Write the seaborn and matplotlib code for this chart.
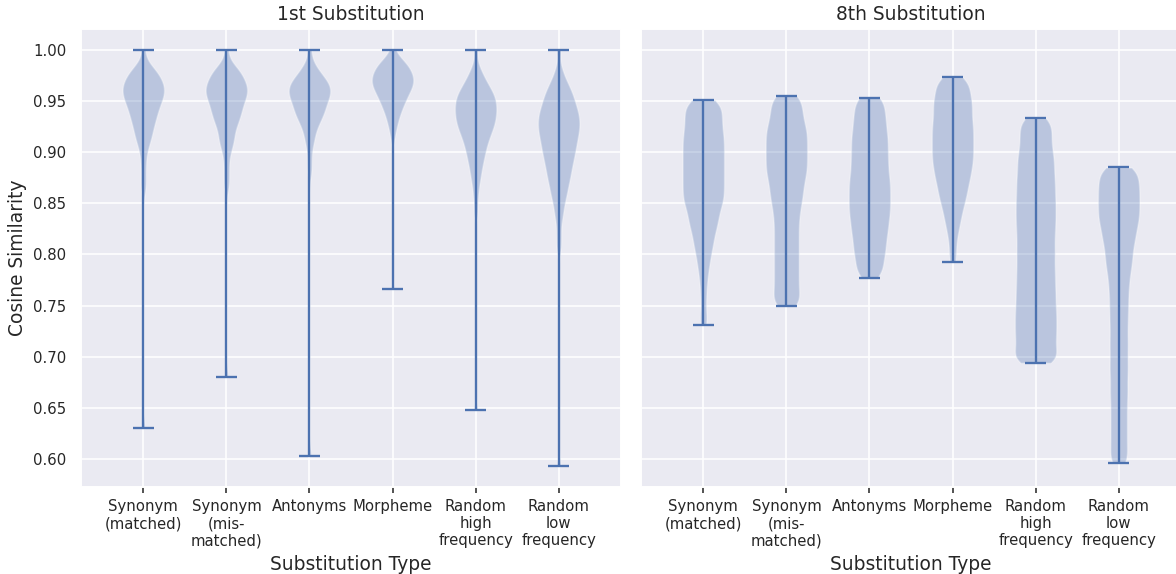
import numpy as np
import matplotlib
matplotlib.use("Agg")
import matplotlib.pyplot as plt
import seaborn as sns

# ---------------- data ----------------
categories = ["Synonym\n(matched)", "Synonym\n(mis-\nmatched)", "Antonyms",
              "Morpheme", "Random\nhigh\nfrequency", "Random\nlow\nfrequency"]
panel_titles = ["1st Substitution", "8th Substitution"]
x_label = "Substitution Type"
y_label = "Cosine Similarity"

# 1st substitution: cosine similarity samples
first_synonym_matched = [
    1.000,
    0.981, 0.984, 0.987,
    0.971, 0.973, 0.974, 0.976, 0.977, 0.979,
    0.961, 0.962, 0.963, 0.965, 0.966, 0.967, 0.968, 0.969,
    0.951, 0.952, 0.953, 0.955, 0.956, 0.957, 0.958, 0.959,
    0.941, 0.943, 0.944, 0.946, 0.947, 0.949,
    0.931, 0.933, 0.935, 0.937, 0.939,
    0.921, 0.924, 0.926, 0.929,
    0.912, 0.915, 0.918,
    0.903, 0.908,
    0.895, 0.885, 0.874, 0.864,
    0.630]
first_synonym_mismatched = [
    1.000,
    0.981, 0.984, 0.987,
    0.971, 0.973, 0.975, 0.976, 0.978, 0.979,
    0.961, 0.962, 0.963, 0.965, 0.966, 0.967, 0.968, 0.969,
    0.951, 0.952, 0.953, 0.955, 0.956, 0.957, 0.958, 0.959,
    0.941, 0.942, 0.944, 0.945, 0.947, 0.949,
    0.931, 0.933, 0.935, 0.937, 0.939,
    0.921, 0.924, 0.927, 0.929,
    0.911, 0.914, 0.917,
    0.903, 0.907,
    0.896, 0.886, 0.876, 0.866,
    0.680]
first_antonyms = [
    1.000,
    0.983, 0.987,
    0.971, 0.973, 0.975, 0.977, 0.979,
    0.961, 0.962, 0.963, 0.965, 0.966, 0.967, 0.968, 0.969,
    0.951, 0.952, 0.953, 0.955, 0.956, 0.957, 0.958, 0.959,
    0.941, 0.942, 0.944, 0.945, 0.947, 0.949,
    0.931, 0.933, 0.935, 0.937, 0.939,
    0.922, 0.925, 0.928,
    0.912, 0.916,
    0.905,
    0.893, 0.881,
    0.603]
first_morpheme = [
    1.000, 0.993,
    0.981, 0.982, 0.983, 0.985, 0.986, 0.987, 0.988, 0.989,
    0.970, 0.971, 0.972, 0.973, 0.974, 0.975, 0.976, 0.977, 0.978, 0.979,
    0.961, 0.962, 0.963, 0.964, 0.965, 0.966, 0.967, 0.968, 0.969,
    0.951, 0.952, 0.954, 0.955, 0.957, 0.958, 0.959,
    0.941, 0.943, 0.945, 0.947, 0.949,
    0.932, 0.935, 0.938,
    0.923, 0.927,
    0.914,
    0.766]
first_random_high = [
    1.000, 0.984, 0.979, 0.974, 0.972, 0.969, 0.967, 0.964, 0.963, 0.961,
    0.959, 0.958, 0.956, 0.955, 0.954, 0.952, 0.951, 0.950, 0.948, 0.947,
    0.946, 0.944, 0.943, 0.942, 0.941, 0.939, 0.938, 0.937, 0.935, 0.934,
    0.933, 0.931, 0.930, 0.929, 0.927, 0.926, 0.924, 0.923, 0.921, 0.920,
    0.918, 0.916, 0.914, 0.912, 0.910, 0.908, 0.905, 0.903, 0.900, 0.897,
    0.894, 0.891, 0.887, 0.883, 0.878, 0.873, 0.866, 0.856, 0.842,
    0.648]
first_random_low = [
    1.000, 0.982, 0.974, 0.970, 0.966, 0.963, 0.961, 0.958, 0.956, 0.954,
    0.952, 0.950, 0.948, 0.946, 0.944, 0.943, 0.941, 0.939, 0.938, 0.936,
    0.935, 0.933, 0.932, 0.930, 0.929, 0.927, 0.926, 0.924, 0.923, 0.921,
    0.920, 0.918, 0.917, 0.915, 0.913, 0.912, 0.910, 0.908, 0.906, 0.905,
    0.903, 0.901, 0.899, 0.897, 0.895, 0.893, 0.891, 0.889, 0.886, 0.884,
    0.882, 0.879, 0.876, 0.874, 0.871, 0.868, 0.864, 0.861, 0.857, 0.853,
    0.847, 0.841, 0.833, 0.820, 0.807,
    0.593]

# 8th substitution: cosine similarity samples
eighth_synonym_matched = [
    0.951, 0.949, 0.948, 0.946, 0.943, 0.941, 0.939, 0.937, 0.934,
    0.932, 0.930, 0.928, 0.926, 0.923, 0.921, 0.919, 0.917, 0.915, 0.913,
    0.911, 0.909, 0.907, 0.905, 0.903, 0.901, 0.899, 0.897, 0.895, 0.893,
    0.891, 0.889, 0.887, 0.885, 0.883, 0.881, 0.879, 0.877, 0.875, 0.873,
    0.871, 0.869, 0.867, 0.865, 0.863, 0.861, 0.859, 0.857, 0.855, 0.853,
    0.851, 0.849, 0.847, 0.844, 0.842, 0.839, 0.836, 0.834, 0.831, 0.828,
    0.825, 0.822, 0.818, 0.814, 0.810, 0.806, 0.801, 0.795, 0.789, 0.781,
    0.771, 0.758, 0.743, 0.731]
eighth_synonym_mismatched = [
    0.955, 0.954, 0.952, 0.949, 0.946, 0.943, 0.941, 0.938, 0.936,
    0.933, 0.931, 0.928, 0.926, 0.924, 0.922, 0.920, 0.918, 0.916, 0.914,
    0.912, 0.910, 0.908, 0.906, 0.904, 0.902, 0.900, 0.898, 0.896, 0.894,
    0.892, 0.890, 0.888, 0.886, 0.884, 0.882, 0.880, 0.878, 0.876, 0.874,
    0.871, 0.869, 0.867, 0.864, 0.862, 0.859, 0.857, 0.854, 0.852, 0.849,
    0.846, 0.843, 0.840, 0.837, 0.834, 0.830, 0.827, 0.824, 0.820, 0.817,
    0.814, 0.810, 0.807, 0.804, 0.800, 0.797, 0.794, 0.790, 0.787, 0.784,
    0.780, 0.777, 0.774, 0.770, 0.767, 0.764, 0.760, 0.757, 0.754, 0.752,
    0.750]
eighth_antonyms = [
    0.953, 0.952, 0.950, 0.947, 0.944, 0.941, 0.938, 0.936, 0.933,
    0.931, 0.928, 0.926, 0.923, 0.921, 0.918, 0.916, 0.914, 0.912, 0.909,
    0.907, 0.905, 0.903, 0.900, 0.898, 0.896, 0.894, 0.891, 0.889, 0.887,
    0.885, 0.883, 0.880, 0.878, 0.876, 0.874, 0.872, 0.870, 0.868, 0.866,
    0.864, 0.862, 0.860, 0.858, 0.856, 0.854, 0.852, 0.850, 0.848, 0.846,
    0.844, 0.842, 0.840, 0.838, 0.836, 0.834, 0.832, 0.829, 0.827, 0.825,
    0.823, 0.821, 0.818, 0.816, 0.813, 0.811, 0.808, 0.806, 0.803, 0.801,
    0.798, 0.795, 0.792, 0.789, 0.786, 0.783, 0.780, 0.777]
eighth_morpheme = [
    0.973, 0.971, 0.969, 0.967, 0.964, 0.962, 0.959, 0.957, 0.955,
    0.952, 0.950, 0.948, 0.946, 0.944, 0.942, 0.940, 0.938, 0.935, 0.933,
    0.931, 0.929, 0.927, 0.925, 0.923, 0.921, 0.919, 0.917, 0.915, 0.913,
    0.911, 0.909, 0.907, 0.905, 0.903, 0.901, 0.899, 0.897, 0.895, 0.893,
    0.891, 0.889, 0.887, 0.885, 0.883, 0.880, 0.878, 0.876, 0.874, 0.871,
    0.869, 0.866, 0.863, 0.860, 0.858, 0.855, 0.851, 0.848, 0.844, 0.840,
    0.835, 0.830, 0.824, 0.816, 0.805, 0.793]
eighth_random_high = [
    0.933, 0.931, 0.928, 0.925, 0.921, 0.918, 0.915, 0.912, 0.908,
    0.905, 0.902, 0.899, 0.896, 0.893, 0.890, 0.888, 0.885, 0.882, 0.879,
    0.876, 0.874, 0.871, 0.868, 0.866, 0.863, 0.860, 0.858, 0.855, 0.852,
    0.850, 0.847, 0.845, 0.842, 0.839, 0.837, 0.834, 0.832, 0.829, 0.826,
    0.824, 0.821, 0.818, 0.816, 0.813, 0.810, 0.807, 0.805, 0.802, 0.799,
    0.797, 0.794, 0.791, 0.788, 0.786, 0.783, 0.780, 0.778, 0.775, 0.772,
    0.770, 0.767, 0.764, 0.762, 0.759, 0.757, 0.754, 0.751, 0.749, 0.746,
    0.744, 0.741, 0.739, 0.736, 0.734, 0.731, 0.729, 0.726, 0.724, 0.721,
    0.719, 0.716, 0.714, 0.711, 0.708, 0.706, 0.703, 0.701, 0.698, 0.696,
    0.695, 0.694]
eighth_random_low = [
    0.885, 0.884, 0.883, 0.881, 0.879, 0.876, 0.874, 0.872,
    0.870, 0.868, 0.866, 0.864, 0.862, 0.860, 0.858, 0.856, 0.854, 0.852,
    0.850, 0.848, 0.846, 0.844, 0.842, 0.840, 0.838, 0.836, 0.834, 0.832,
    0.830, 0.828, 0.825, 0.823, 0.821, 0.818, 0.816, 0.813, 0.811, 0.808,
    0.805, 0.802, 0.799, 0.796, 0.793, 0.790, 0.787, 0.783, 0.780, 0.776,
    0.772, 0.768, 0.764, 0.760, 0.755, 0.751, 0.747, 0.742, 0.738, 0.733,
    0.729, 0.724, 0.719, 0.715, 0.710, 0.706, 0.701, 0.696, 0.692, 0.687,
    0.683, 0.678, 0.673, 0.668, 0.664, 0.659, 0.654, 0.649, 0.644, 0.639,
    0.634, 0.629, 0.624, 0.619, 0.614, 0.609, 0.604, 0.599, 0.596]

first_sub = [first_synonym_matched, first_synonym_mismatched, first_antonyms,
             first_morpheme, first_random_high, first_random_low]
eighth_sub = [eighth_synonym_matched, eighth_synonym_mismatched, eighth_antonyms,
              eighth_morpheme, eighth_random_high, eighth_random_low]

# ---------------- style ----------------
sns.set_theme(style="darkgrid", context="notebook",
              rc={"xtick.labelsize": 9.6, "ytick.labelsize": 9.6,
                  "axes.titlesize": 12, "axes.labelsize": 12})
plt.rcParams["font.family"] = ["DejaVu Sans"]

fig = plt.figure(figsize=(10.5, 5.125), dpi=112)
W, H = 1176.0, 574.0
ax1 = fig.add_axes([81 / W, 87 / H, 540 / W, 458 / H])
ax2 = fig.add_axes([641 / W, 87 / H, 540 / W, 458 / H], sharey=ax1)


def fixed_bw(h):
    return lambda kde: h / np.std(kde.dataset, ddof=1)


for ax, data, title, bw in [(ax1, first_sub, panel_titles[0], 0.0072),
                            (ax2, eighth_sub, panel_titles[1], 0.008)]:
    pos = np.arange(1, len(data) + 1)
    ax.violinplot(data, positions=pos, bw_method=fixed_bw(bw), points=200)
    ax.set_xticks(pos)
    ax.set_xticklabels(categories)
    ax.set_xlim(0.25, len(data) + 0.75)
    ax.set_title(title)
    ax.set_xlabel(x_label)
    ax.tick_params(axis="x", bottom=True, length=4, width=1, color=".15")

ax1.set_ylabel(y_label)
ax2.tick_params(axis="y", labelleft=False)

fig.savefig("out.png", dpi=112)
